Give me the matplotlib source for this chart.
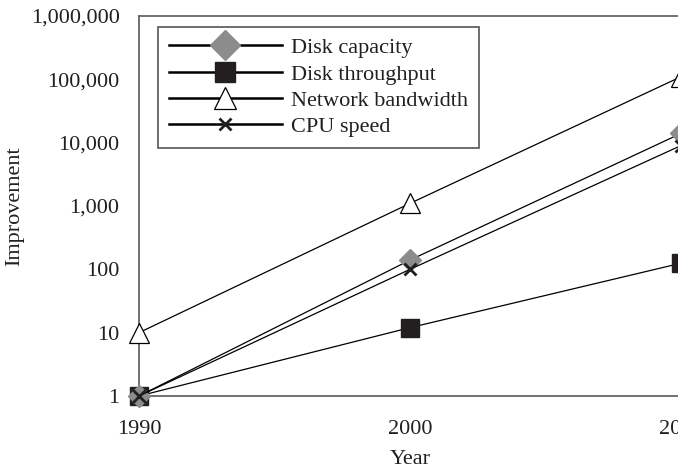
import matplotlib
matplotlib.use('Agg')
import matplotlib.pyplot as plt
from matplotlib.lines import Line2D
from matplotlib.ticker import FixedLocator, FuncFormatter

plt.rcParams['font.family'] = ['Liberation Serif', 'DejaVu Serif']

# values
years = [1990, 2000, 2010]
disk_capacity = [1, 140, 14000]
disk_throughput = [1, 12, 125]
network_bandwidth = [10, 1100, 110000]
cpu_speed = [1, 100, 9000]
labels = ['Disk capacity', 'Disk throughput', 'Network bandwidth', 'CPU speed']

fs = 16
txt = '#231f20'

fig = plt.figure(figsize=(6.78, 4.73), dpi=100)
# axes runs a little past the right edge, as in the cropped original
ax = fig.add_axes([139/678, 77/473, 542/678, 380/473])

lw = 0.9
ax.plot(years, disk_throughput, color='black', lw=lw, marker='s', ms=13,
        mfc=txt, mec=txt, zorder=3, clip_on=False)
ax.plot(years, network_bandwidth, color='black', lw=lw, marker='^', ms=15,
        mfc='white', mec='black', mew=0.9, zorder=3, clip_on=False)
ax.plot(years, disk_capacity, color='black', lw=lw, marker='D', ms=11.5,
        mfc='#8c8c8c', mec='#8c8c8c', zorder=4, clip_on=False)
ax.plot(years, cpu_speed, color='black', lw=lw, marker='x', ms=9,
        mec=txt, mew=2, zorder=5, clip_on=False)

ax.set_yscale('log')
ax.set_ylim(1, 1e6)
ax.set_xlim(1990, 2010)
ax.yaxis.set_major_locator(FixedLocator([1, 10, 100, 1e3, 1e4, 1e5, 1e6]))
ax.yaxis.set_minor_locator(FixedLocator([]))
ax.yaxis.set_major_formatter(FuncFormatter(lambda v, p: f'{int(round(v)):,}'))
ax.set_xticks(years)
ax.tick_params(length=0, labelsize=fs, colors=txt)
ax.tick_params(axis='y', pad=14)
ax.tick_params(axis='x', pad=17)
for s in ax.spines.values():
    s.set_color('#666666')
    s.set_linewidth(1.3)
ax.spines['right'].set_visible(False)

ax.set_ylabel('Improvement', fontsize=fs, color=txt)
ax.set_xlabel('Year', fontsize=fs, color=txt, labelpad=8)
ax.yaxis.set_label_coords(-0.212, 0.5)

handles = [
    Line2D([], [], color='black', lw=1.8, marker='D', ms=15, mfc='#8c8c8c', mec='#8c8c8c'),
    Line2D([], [], color='black', lw=1.8, marker='s', ms=14, mfc=txt, mec=txt),
    Line2D([], [], color='black', lw=1.8, marker='^', ms=16, mfc='white', mec='black', mew=0.9),
    Line2D([], [], color='black', lw=1.8, marker='x', ms=9, mec=txt, mew=2),
]
leg = ax.legend(handles, labels, loc='upper left', bbox_to_anchor=(0.035, 0.971),
                fontsize=fs, handlelength=5.1, handletextpad=0.4, labelspacing=0.26,
                borderpad=0.48, fancybox=False, framealpha=1, borderaxespad=0)
leg.get_frame().set_edgecolor('#555555')
leg.get_frame().set_linewidth(1.2)
for t in leg.get_texts():
    t.set_color(txt)

fig.savefig('out.png', dpi=100)
